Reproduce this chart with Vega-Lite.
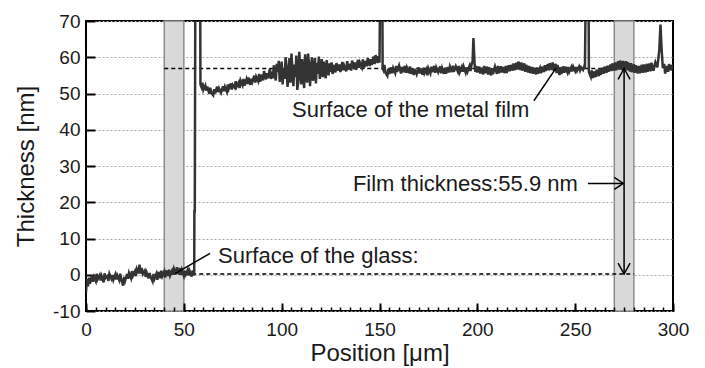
{
 "$schema": "https://vega.github.io/schema/vega-lite/v6.json",
 "width": 587, "height": 290,
 "autosize": {"type": "none"},
 "padding": {"left": 86, "top": 21, "right": 32, "bottom": 57},
 "background": "white",
 "config": {
  "font": "Liberation Sans",
  "view": {"stroke": "black", "strokeWidth": 2},
  "axis": {"domain": false, "tickColor": "black", "tickWidth": 2, "labelFontSize": 19, "labelColor": "#1a1a1a", "titleFontSize": 24, "titleFontWeight": "normal", "titleColor": "#1a1a1a", "labelFlush": false, "labelOverlap": false}
 },
 "datasets": {
  "bands": [{"start": 40, "end": 50}, {"start": 270, "end": 280}],
  "dash": [{"x": 40, "x2": 280, "y": 56.9}, {"x": 40, "x2": 280, "y": 0.2}],
  "arrows": [
   {"x": 275, "x2": 275, "y": 56.9, "y2": 0.2},
   {"x": 256.5, "x2": 274.5, "y": 25.2, "y2": 25.2},
   {"x": 63.4, "x2": 45.5, "y": 5.9, "y2": 0.3},
   {"x": 228.9, "x2": 240.2, "y": 48, "y2": 57}
  ],
  "heads": [
   {"x": 275, "y": 56.9, "dir": "up"},
   {"x": 275, "y": 0.2, "dir": "down"},
   {"x": 274.6, "y": 25.2, "dir": "right"}
  ],
  "labels": [
   {"x": 105.3, "y": 43.4, "text": "Surface of the metal film"},
   {"x": 136.4, "y": 23.0, "text": "Film thickness:55.9 nm"},
   {"x": 67.5, "y": 3.15, "text": "Surface of the glass:"}
  ],
  "profile": [
   {"p":0,"t":-4.8},{"p":0.5,"t":-1.2},{"p":1,"t":-3.2},{"p":1.5,"t":-0.8},{"p":2,"t":-2.5},{"p":3,"t":-0.2},{"p":3.5,"t":-1.9},{"p":4,"t":-0.6},{"p":5,"t":-1.8},{"p":5.5,"t":0.3},{"p":6,"t":-1.2},{"p":7,"t":-0.1},{"p":7.5,"t":-1.6},{"p":8,"t":-0.4},{"p":9,"t":-2.1},{"p":9.5,"t":0.4},
   {"p":10,"t":-0.9},{"p":11,"t":-0.3},{"p":11.5,"t":-1.7},{"p":12,"t":0.2},{"p":13,"t":-1.1},{"p":13.5,"t":-0.1},{"p":14,"t":-1.4},{"p":15,"t":0.1},{"p":15.5,"t":-1.3},{"p":16,"t":-0.2},{"p":17,"t":-1.5},{"p":17.5,"t":0.3},{"p":18,"t":-1.2},{"p":19,"t":-3},{"p":19.5,"t":-0.6},
   {"p":20,"t":-1.6},{"p":21,"t":0.2},{"p":21.5,"t":-1.1},{"p":22,"t":0.5},{"p":23,"t":-0.9},{"p":23.5,"t":1},{"p":24,"t":-0.3},{"p":25,"t":0.9},{"p":25.5,"t":-0.4},{"p":26,"t":1.6},{"p":27,"t":0.4},{"p":27.3,"t":2.8},{"p":28,"t":0.3},{"p":28.5,"t":1.9},{"p":29,"t":0.2},
   {"p":30,"t":1.1},{"p":30.5,"t":-0.6},{"p":31,"t":0.6},{"p":32,"t":-1},{"p":32.5,"t":0.5},{"p":33,"t":-0.6},{"p":34,"t":-1.8},{"p":34.5,"t":0.2},{"p":35,"t":-1.1},{"p":36,"t":0.3},{"p":36.5,"t":-1.4},{"p":37,"t":0.8},{"p":38,"t":-0.9},{"p":38.5,"t":1.1},{"p":39,"t":-0.4},
   {"p":40,"t":0.9},{"p":40.5,"t":-0.8},{"p":41,"t":1.2},{"p":42,"t":-0.3},{"p":42.5,"t":1.4},{"p":43,"t":-0.2},{"p":44,"t":1.1},{"p":44.5,"t":0},{"p":45,"t":1.6},{"p":46,"t":0.1},{"p":46.5,"t":2.1},{"p":47,"t":0.3},{"p":48,"t":1.8},{"p":48.5,"t":-0.1},{"p":49,"t":1.3},
   {"p":50,"t":-0.3},{"p":50.5,"t":1.1},{"p":51,"t":0.1},{"p":52,"t":1.4},{"p":52.5,"t":-0.2},{"p":53,"t":1},{"p":54,"t":-0.5},{"p":54.5,"t":1.2},{"p":55,"t":-0.2},{"p":55.3,"t":0.5},{"p":55.4,"t":17.5},{"p":55.6,"t":17.5},{"p":55.9,"t":85},
   {"p":58.3,"t":85},{"p":58.5,"t":52.5},{"p":59,"t":51.8},{"p":59.5,"t":53},{"p":60,"t":51},{"p":61,"t":52.2},{"p":61.5,"t":50.8},{"p":62,"t":51.9},{"p":63,"t":49.9},{"p":63.5,"t":51.6},{"p":64,"t":50.2},{"p":65,"t":49.5},{"p":65.5,"t":51.2},{"p":66,"t":50},{"p":67,"t":51.9},{"p":67.5,"t":50.4},{"p":68,"t":51.4},{"p":69,"t":50.2},
   {"p":70,"t":52},{"p":70.5,"t":50.6},{"p":71,"t":51.8},{"p":72,"t":50.5},{"p":72.5,"t":52.5},{"p":73,"t":51.3},{"p":74,"t":52.8},{"p":74.5,"t":51.1},{"p":75,"t":52.4},{"p":76,"t":51.6},{"p":76.5,"t":53.4},{"p":77,"t":51.9},{"p":78,"t":53},{"p":78.5,"t":51.5},{"p":79,"t":53.6},
   {"p":80,"t":52.3},{"p":80.5,"t":54},{"p":81,"t":52.2},{"p":82,"t":53.9},{"p":82.5,"t":52.6},{"p":83,"t":54.4},{"p":84,"t":52.4},{"p":84.5,"t":54.1},{"p":85,"t":53.2},{"p":86,"t":54.9},{"p":86.5,"t":53},{"p":87,"t":54.6},{"p":88,"t":53.4},{"p":88.5,"t":55.4},{"p":89,"t":53.3},
   {"p":90,"t":55.2},{"p":90.5,"t":53.6},{"p":91,"t":56.2},{"p":92,"t":53.9},{"p":92.5,"t":55.6},{"p":93,"t":54.2},{"p":94,"t":56.8},{"p":94.5,"t":54},
   {"p":95,"t":56},{"p":95.5,"t":54.2},{"p":96,"t":57.8},{"p":96.5,"t":55},{"p":97,"t":53.6},{"p":97.5,"t":58.2},{"p":98,"t":56},{"p":98.5,"t":59},{"p":99,"t":53.2},{"p":99.5,"t":55.5},
   {"p":100,"t":58.8},{"p":100.5,"t":52.5},{"p":101,"t":57},{"p":101.5,"t":54},{"p":102,"t":60},{"p":102.5,"t":57.5},{"p":103,"t":51.8},{"p":103.5,"t":55},{"p":104,"t":59.8},{"p":104.5,"t":53},
   {"p":105,"t":61},{"p":105.5,"t":56.5},{"p":106,"t":52},{"p":106.5,"t":58},{"p":107,"t":54.5},{"p":107.5,"t":60.5},{"p":108,"t":51},{"p":108.5,"t":53.5},{"p":109,"t":61.5},{"p":109.5,"t":57},
   {"p":110,"t":52.5},{"p":110.5,"t":59.5},{"p":111,"t":55},{"p":111.5,"t":51.5},{"p":112,"t":60.8},{"p":112.5,"t":56},{"p":113,"t":53},{"p":113.5,"t":61},{"p":114,"t":58},{"p":114.5,"t":52},
   {"p":115,"t":57.5},{"p":115.5,"t":60},{"p":116,"t":53.5},{"p":116.5,"t":56},{"p":117,"t":59.8},{"p":117.5,"t":52.8},{"p":118,"t":58.5},{"p":118.5,"t":55.5},{"p":119,"t":60.2},{"p":119.5,"t":54},
   {"p":120,"t":57},{"p":120.5,"t":59.5},{"p":121,"t":54.5},{"p":121.5,"t":58.8},{"p":122,"t":56},{"p":122.5,"t":54.2},{"p":123,"t":59.2},{"p":123.5,"t":56.5},{"p":124,"t":55},{"p":124.5,"t":58.3},
   {"p":125,"t":56},{"p":125.5,"t":58.6},{"p":126,"t":55.4},{"p":127,"t":57.9},{"p":127.5,"t":55.8},{"p":128,"t":58.4},{"p":129,"t":56.3},{"p":129.5,"t":58},{"p":130,"t":55.9},
   {"p":131,"t":58.7},{"p":131.5,"t":56.4},{"p":132,"t":57.6},{"p":133,"t":56.1},{"p":133.5,"t":58.9},{"p":134,"t":56.6},{"p":135,"t":58.2},{"p":135.5,"t":56.3},{"p":136,"t":59.1},{"p":137,"t":56.8},{"p":137.5,"t":58.6},{"p":138,"t":56.5},{"p":139,"t":59.3},{"p":139.5,"t":57.1},
   {"p":140,"t":58.5},{"p":141,"t":57.2},{"p":141.5,"t":59.4},{"p":142,"t":57},{"p":143,"t":59},{"p":143.5,"t":57.5},{"p":144,"t":59.8},{"p":145,"t":57.6},{"p":145.5,"t":59.5},{"p":146,"t":57.9},{"p":147,"t":60.2},{"p":147.5,"t":58.1},{"p":148,"t":60.6},{"p":149,"t":58.4},{"p":149.5,"t":60.3},
   {"p":150,"t":58.5},{"p":150.4,"t":85},{"p":151.4,"t":85},{"p":151.6,"t":57},{"p":152,"t":56.5},{"p":152.5,"t":57.9},{"p":153,"t":55.8},{"p":154,"t":54.9},{"p":154.5,"t":56.8},{"p":155,"t":55.4},{"p":156,"t":57.2},{"p":156.5,"t":55.6},{"p":157,"t":57},{"p":158,"t":55.7},{"p":158.5,"t":57.6},{"p":159,"t":56},
   {"p":160,"t":57.7},{"p":161,"t":55.5},{"p":161.5,"t":57.3},{"p":162,"t":55.9},{"p":163,"t":57.6},{"p":163.5,"t":55.7},{"p":164,"t":57.1},{"p":165,"t":55.6},{"p":165.5,"t":57.5},{"p":166,"t":55.4},{"p":167,"t":56.9},{"p":167.5,"t":55.1},{"p":168,"t":56.8},{"p":169,"t":55.3},
   {"p":170,"t":57.2},{"p":170.5,"t":55.5},{"p":171,"t":56.9},{"p":172,"t":55.2},{"p":172.5,"t":57.1},{"p":173,"t":55.6},{"p":174,"t":56.7},{"p":174.5,"t":55},{"p":175,"t":56.9},{"p":176,"t":55.6},{"p":176.5,"t":57.4},{"p":177,"t":55.9},{"p":178,"t":57.6},{"p":178.5,"t":55.7},{"p":179,"t":57.2},
   {"p":180,"t":55.9},{"p":181,"t":57.5},{"p":181.5,"t":55.6},{"p":182,"t":57},{"p":183,"t":55.4},{"p":183.5,"t":57.1},{"p":184,"t":55.5},{"p":185,"t":57.3},{"p":185.5,"t":55.8},{"p":186,"t":57.4},{"p":187,"t":55.9},{"p":187.5,"t":57.7},{"p":188,"t":56},{"p":189,"t":57.5},
   {"p":190,"t":56.1},{"p":190.5,"t":57.6},{"p":191,"t":55.9},{"p":192,"t":57.3},{"p":192.5,"t":56},{"p":193,"t":57.4},{"p":194,"t":55.8},{"p":194.5,"t":57.2},{"p":195,"t":56.1},{"p":196,"t":57.6},{"p":196.5,"t":56.2},{"p":197,"t":57.9},{"p":197.6,"t":59},{"p":198,"t":65.3},{"p":198.6,"t":58},
   {"p":199,"t":56},{"p":199.5,"t":57.6},{"p":200,"t":55.8},{"p":201,"t":57.4},{"p":201.5,"t":55.5},{"p":202,"t":57.1},{"p":203,"t":55.3},{"p":203.5,"t":57.6},{"p":204,"t":55.6},{"p":205,"t":57.4},{"p":205.5,"t":55.2},{"p":206,"t":57.2},{"p":207,"t":55},{"p":207.5,"t":57},{"p":208,"t":55.3},{"p":209,"t":57.4},
   {"p":210,"t":55.4},{"p":210.5,"t":57.6},{"p":211,"t":55.6},{"p":212,"t":57.5},{"p":212.5,"t":55.8},{"p":213,"t":57.3},{"p":214,"t":55.6},{"p":214.5,"t":57.6},{"p":215,"t":55.7},{"p":216,"t":57.8},{"p":216.5,"t":56.1},{"p":217,"t":57.9},{"p":218,"t":56.3},{"p":218.5,"t":58.3},{"p":219,"t":56.4},
   {"p":220,"t":58.5},{"p":220.5,"t":56.6},{"p":221,"t":58.8},{"p":222,"t":56.5},{"p":222.5,"t":58.6},{"p":223,"t":56.3},{"p":224,"t":58.3},{"p":224.5,"t":56},{"p":225,"t":57.9},{"p":226,"t":55.8},{"p":226.5,"t":57.6},{"p":227,"t":55.6},{"p":228,"t":57.3},{"p":228.5,"t":55.4},{"p":229,"t":57.1},
   {"p":230,"t":55.3},{"p":230.5,"t":57.2},{"p":231,"t":55.5},{"p":232,"t":57},{"p":232.5,"t":55.6},{"p":233,"t":57.4},{"p":234,"t":55.9},{"p":234.5,"t":57.8},{"p":235,"t":56.2},{"p":236,"t":58.1},{"p":236.5,"t":56.4},{"p":237,"t":58.4},{"p":238,"t":56.5},{"p":238.5,"t":58.6},{"p":239,"t":56.3},
   {"p":240,"t":58.2},{"p":240.5,"t":55.6},{"p":241,"t":57.9},{"p":242,"t":55.1},{"p":242.5,"t":57.3},{"p":243,"t":55.4},{"p":244,"t":57.5},{"p":244.5,"t":55.7},{"p":245,"t":57.4},{"p":246,"t":55.9},{"p":246.5,"t":57.3},{"p":247,"t":56},{"p":248,"t":57.2},{"p":248.5,"t":56.1},{"p":249,"t":57.4},
   {"p":250,"t":56.2},{"p":250.5,"t":57.3},{"p":251,"t":56.3},{"p":252,"t":57.4},{"p":252.5,"t":56.4},{"p":253,"t":57.2},{"p":254,"t":56.5},{"p":254.5,"t":57.3},{"p":255,"t":56.8},{"p":255.5,"t":85},{"p":256.8,"t":85},{"p":257,"t":56},
   {"p":258,"t":54.6},{"p":258.5,"t":56.4},{"p":259,"t":54.3},{"p":260,"t":56.1},{"p":260.5,"t":54.5},{"p":261,"t":56.6},{"p":262,"t":54.8},{"p":262.5,"t":56.9},{"p":263,"t":55.1},{"p":264,"t":57.1},{"p":264.5,"t":55.4},{"p":265,"t":57.4},{"p":266,"t":55.7},{"p":266.5,"t":57.7},{"p":267,"t":56},{"p":268,"t":58},{"p":268.5,"t":56.2},{"p":269,"t":58.3},
   {"p":270,"t":56.3},{"p":270.5,"t":58.6},{"p":271,"t":56.4},{"p":272,"t":58.9},{"p":272.5,"t":56.6},{"p":273,"t":59.1},{"p":274,"t":56.5},{"p":274.5,"t":59},{"p":275,"t":56.7},{"p":276,"t":58.9},{"p":276.5,"t":56.4},{"p":277,"t":58.6},{"p":278,"t":56.1},{"p":278.5,"t":58.4},{"p":279,"t":55.9},
   {"p":280,"t":58.1},{"p":280.5,"t":55.7},{"p":281,"t":57.8},{"p":282,"t":55.5},{"p":282.5,"t":57.6},{"p":283,"t":55.6},{"p":284,"t":57.9},{"p":284.5,"t":55.7},{"p":285,"t":58},{"p":286,"t":55.8},{"p":286.5,"t":58.2},{"p":287,"t":56},{"p":288,"t":58.3},{"p":288.5,"t":56.1},{"p":289,"t":58.5},
   {"p":290,"t":56.3},{"p":291,"t":58.6},{"p":292,"t":57.2},{"p":293,"t":62},{"p":293.6,"t":69},{"p":294.2,"t":62},{"p":294.8,"t":57},{"p":295.5,"t":58.2},{"p":296,"t":55.5},{"p":297,"t":57.6},{"p":297.5,"t":56},{"p":298,"t":58.1},{"p":299,"t":56.4},{"p":299.5,"t":57.9},{"p":300,"t":56.8}
  ]
 },
 "resolve": {"axis": {"x": "independent"}},
 "layer": [
  {
   "data": {"name": "bands"},
   "mark": {"type": "rect", "fill": "#d9d9d9", "stroke": "#8c8c8c", "strokeWidth": 1.5},
   "encoding": {
    "x": {"field": "start", "type": "quantitative", "scale": {"domain": [0, 300], "nice": false},
          "axis": {"orient": "bottom", "zindex": 1, "values": [0,5,10,15,20,25,30,35,40,45,50,55,60,65,70,75,80,85,90,95,100,105,110,115,120,125,130,135,140,145,150,155,160,165,170,175,180,185,190,195,200,205,210,215,220,225,230,235,240,245,250,255,260,265,270,275,280,285,290,295,300], "tickCount": 200, "tickSize": -4, "tickWidth": 1.5, "tickColor": "black", "labels": false, "grid": false, "title": null}},
    "x2": {"field": "end"}
   }
  },
  {
   "data": {"name": "dash"},
   "mark": {"type": "rule", "color": "black", "strokeWidth": 1.3, "strokeDash": [4, 3]},
   "encoding": {
    "x": {"field": "x", "type": "quantitative", "axis": null},
    "x2": {"field": "x2"},
    "y": {"field": "y", "type": "quantitative"}
   }
  },
  {
   "data": {"name": "profile"},
   "mark": {"type": "line", "color": "#333333", "strokeWidth": 2.5, "clip": true},
   "encoding": {
    "x": {"field": "p", "type": "quantitative", "scale": {"domain": [0, 300], "nice": false},
          "axis": {"orient": "bottom", "zindex": 1, "values": [0, 50, 100, 150, 200, 250, 300], "tickCount": 50, "tickSize": -8, "tickWidth": 2, "tickColor": "black", "labelPadding": 17, "labelOverlap": false, "grid": false, "title": "Position [μm]", "titleY": 49, "titleBaseline": "alphabetic"}},
    "y": {"field": "t", "type": "quantitative", "scale": {"domain": [-10, 70], "nice": false},
          "axis": {"values": [-10, 0, 10, 20, 30, 40, 50, 60, 70], "tickCount": 50, "labelExpr": "'' + datum.value", "labelOverlap": false, "tickSize": -9, "tickWidth": 2, "tickColor": "black", "labelPadding": 15, "grid": true, "gridColor": "#a6a6a6", "gridDash": [2, 2], "gridWidth": 1, "title": "Thickness [nm]", "titleX": -53, "titleY": 145, "titleBaseline": "alphabetic", "titleAlign": "center"}}
   }
  },
  {
   "data": {"name": "arrows"},
   "mark": {"type": "rule", "color": "black", "strokeWidth": 1.5},
   "encoding": {
    "x": {"field": "x", "type": "quantitative", "axis": null},
    "x2": {"field": "x2"},
    "y": {"field": "y", "type": "quantitative"},
    "y2": {"field": "y2"}
   }
  },
  {
   "data": {"name": "heads"},
   "mark": {"type": "point", "filled": false, "stroke": "black", "strokeWidth": 1.5, "size": 144, "opacity": 1},
   "encoding": {
    "x": {"field": "x", "type": "quantitative", "axis": null},
    "y": {"field": "y", "type": "quantitative"},
    "shape": {"field": "dir", "type": "nominal", "legend": null,
      "scale": {"domain": ["up", "down", "right"], "range": ["M-1,1.8L0,0L1,1.8", "M-1,-1.8L0,0L1,-1.8", "M-1.5,-1L0,0L-1.5,1"]}}
   }
  },
  {
   "data": {"name": "labels"},
   "mark": {"type": "text", "align": "left", "baseline": "alphabetic", "fontSize": 22, "color": "#1a1a1a"},
   "encoding": {
    "x": {"field": "x", "type": "quantitative", "axis": null},
    "y": {"field": "y", "type": "quantitative"},
    "text": {"field": "text"}
   }
  }
 ]
}
